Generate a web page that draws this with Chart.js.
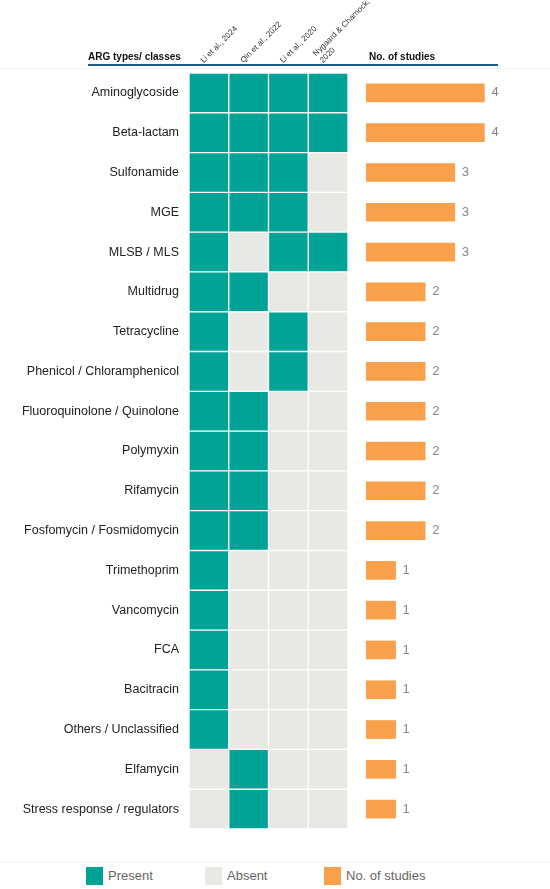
<!DOCTYPE html>
<html>
<head>
<meta charset="utf-8">
<script src="https://cdn.jsdelivr.net/npm/chart.js@4.4.1/dist/chart.umd.min.js"></script>
<style>
  body { margin: 0; background: #fff; font-family: "Liberation Sans", Arial, sans-serif; }
  #wrap { position: relative; width: 550px; height: 889px; overflow: hidden; }
  #gridChart { position: absolute; left: 0; top: 0; }
  #barChart { position: absolute; left: 366px; top: 0; }
  .hdr { position: absolute; top: 51px; font-size: 10px; font-weight: bold; color: #111; }
  .rule { position: absolute; left: 88px; top: 64px; width: 410px; height: 2px; background: #1e5b87; }
  .faint { position: absolute; left: 0; width: 550px; height: 1px; background: #f3f3f3; }
  .legend { position: absolute; top: 867px; font-size: 13px; color: #666; line-height: 18px; }
  .legend span { display: inline-block; width: 17px; height: 18px; vertical-align: top; margin-right: 5px; }
</style>
</head>
<body>
<div id="wrap">
  <div class="faint" style="top:68px"></div>
  <div class="faint" style="top:862px"></div>
  <canvas id="gridChart" width="400" height="832"></canvas>
  <canvas id="barChart" width="184" height="832"></canvas>
  <div class="hdr" style="left:88px">ARG types/ classes</div>
  <div class="hdr" style="left:369px">No. of studies</div>
  <div class="rule"></div>
  <div class="legend" style="left:86px"><span style="background:#00a396"></span>Present</div>
  <div class="legend" style="left:205px"><span style="background:#e8e8e5"></span>Absent</div>
  <div class="legend" style="left:324px"><span style="background:#f9a04b"></span>No. of studies</div>
</div>
<script>
const argClasses = [
  "Aminoglycoside", "Beta-lactam", "Sulfonamide", "MGE", "MLSB / MLS",
  "Multidrug", "Tetracycline", "Phenicol / Chloramphenicol", "Fluoroquinolone / Quinolone",
  "Polymyxin", "Rifamycin", "Fosfomycin / Fosmidomycin", "Trimethoprim", "Vancomycin",
  "FCA", "Bacitracin", "Others / Unclassified", "Elfamycin", "Stress response / regulators"
];
const studies = ["Li et al., 2024", "Qin et al., 2022", "Li et al., 2020", ["Nygaard & Charnock,", "2020"]];

// 1 = present, 0 = absent
const li2024      = [1,1,1,1,1,1,1,1,1,1,1,1,1,1,1,1,1,0,0];
const qin2022     = [1,1,1,1,0,1,0,0,1,1,1,1,0,0,0,0,0,1,1];
const li2020      = [1,1,1,1,1,0,1,1,0,0,0,0,0,0,0,0,0,0,0];
const nygaard2020 = [1,1,0,0,1,0,0,0,0,0,0,0,0,0,0,0,0,0,0];
const studyCounts = [4,4,3,3,3,2,2,2,2,2,2,2,1,1,1,1,1,1,1];

const presence = [li2024, qin2022, li2020, nygaard2020];
const TEAL = "#00a396", GRAY = "#e8e8e5", ORANGE = "#f9a04b";

new Chart(document.getElementById("gridChart"), {
  type: "bar",
  data: {
    labels: argClasses,
    datasets: presence.map((arr, i) => ({
      label: Array.isArray(studies[i]) ? studies[i].join(" ") : studies[i],
      data: arr.map(() => 1),
      backgroundColor: arr.map(v => v ? TEAL : GRAY),
      borderColor: "#ffffff",
      borderWidth: 1,
      borderSkipped: false,
      barPercentage: 1,
      categoryPercentage: 1
    }))
  },
  options: {
    indexAxis: "y",
    responsive: false,
    animation: false,
    layout: { padding: { left: 0, right: 52, top: 0, bottom: 3 } },
    plugins: { legend: { display: false }, tooltip: { enabled: false } },
    scales: {
      x: {
        type: "linear",
        position: "top",
        stacked: true,
        min: 0,
        max: 4,
        grid: { display: false, drawTicks: false },
        border: { display: false },
        afterBuildTicks: scale => { scale.ticks = studies.map((s, i) => ({ value: i + 0.5 })); },
        afterFit: scale => {
          scale.height = 73;
          scale.paddingLeft = 0;
          scale.paddingRight = 0;
        },
        ticks: {
          autoSkip: false,
          minRotation: 45,
          maxRotation: 45,
          padding: 8,
          color: "#333",
          font: { size: 8, family: "Liberation Sans" },
          callback: (value, index) => studies[index]
        }
      },
      y: {
        stacked: true,
        grid: { display: false, drawTicks: false },
        border: { display: false },
        afterFit: scale => {
          scale.width = 189;
          scale.paddingTop = 0;
          scale.paddingBottom = 0;
        },
        ticks: {
          padding: 10,
          color: "#222",
          font: { size: 12.5, family: "Liberation Sans" }
        }
      }
    }
  }
});

const valueLabels = {
  id: "valueLabels",
  afterDatasetsDraw(chart) {
    const ctx = chart.ctx;
    const meta = chart.getDatasetMeta(0);
    ctx.save();
    ctx.fillStyle = "#888";
    ctx.font = "13px 'Liberation Sans'";
    ctx.textBaseline = "middle";
    meta.data.forEach((bar, i) => {
      ctx.fillText(studyCounts[i], bar.x + 7, bar.y);
    });
    ctx.restore();
  }
};

new Chart(document.getElementById("barChart"), {
  type: "bar",
  data: {
    labels: argClasses,
    datasets: [{
      label: "No. of studies",
      data: studyCounts,
      backgroundColor: ORANGE,
      barThickness: 18
    }]
  },
  options: {
    indexAxis: "y",
    responsive: false,
    animation: false,
    layout: { padding: { left: 0, right: 36, top: 73, bottom: 3 } },
    plugins: { legend: { display: false }, tooltip: { enabled: false } },
    scales: {
      x: { display: false, min: 0, max: 5 },
      y: { display: false }
    }
  },
  plugins: [valueLabels]
});
</script>
</body>
</html>
